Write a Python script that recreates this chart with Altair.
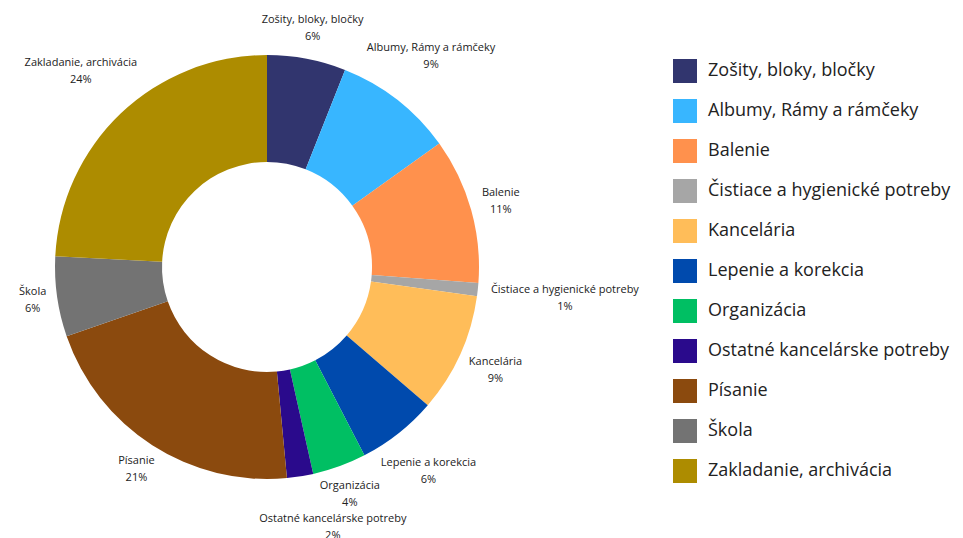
import altair as alt
import pandas as pd

categories = [
    "Zošity, bloky, bločky",
    "Albumy, Rámy a rámčeky",
    "Balenie",
    "Čistiace a hygienické potreby",
    "Kancelária",
    "Lepenie a korekcia",
    "Organizácia",
    "Ostatné kancelárske potreby",
    "Písanie",
    "Škola",
    "Zakladanie, archivácia",
]
values = [6.0, 9.1, 11.1, 1.0, 9.1, 6.1, 4.1, 2.0, 21.2, 6.1, 24.2]
colors = [
    "#31356e", "#38b6ff", "#ff914d", "#a6a6a6", "#ffbd59", "#004aad",
    "#00bf63", "#2a0a8c", "#8b4a0e", "#737373", "#ad8c00",
]

df = pd.DataFrame({"category": categories, "value": values, "idx": list(range(len(categories)))})

FONT = "Open Sans"
color_scale = alt.Scale(domain=categories, range=colors)

base = alt.Chart(df)

arcs = base.mark_arc(outerRadius=212, innerRadius=105).encode(
    theta=alt.Theta("value:Q", stack=True),
    color=alt.Color(
        "category:N",
        scale=color_scale,
        sort=categories,
        legend=alt.Legend(
            title=None,
            orient="none",
            legendX=660,
            legendY=46,
            symbolType="square",
            symbolSize=576,
            symbolStrokeWidth=0,
            labelFontSize=18,
            labelFont=FONT,
            labelColor="#222222",
            rowPadding=16,
            labelOffset=11,
            padding=0,
            labelLimit=400,
        ),
    ),
    order=alt.Order("idx:Q"),
)

labels = (
    base.transform_joinaggregate(total="sum(value)")
    .transform_window(cum="sum(value)", sort=[alt.SortField("idx")], frame=[None, 0])
    .transform_calculate(mid="(datum.cum - datum.value/2)/datum.total*2*PI")
    .transform_window(prev="lag(mid)", sort=[alt.SortField("idx")])
    .transform_calculate(gap="datum.prev == null ? 1 : datum.mid - datum.prev")
    .transform_calculate(
        bump="datum.gap < 0.26 ? 1 : 0",
    )
    .transform_calculate(
        r="222 + length(datum.category)*5.3/2*abs(sin(datum.mid)) + 11*abs(cos(datum.mid)) + datum.bump*25",
        ang="datum.mid - datum.bump*0.09",
        lbl="[datum.category, format(datum.value/datum.total, '.0%')]",
    )
    .mark_text(font=FONT, fontSize=11, color="#222222", align="center", baseline="middle", lineHeight=17, dy=-8.5)
    .encode(
        theta=alt.Theta("ang:Q", scale=None),
        radius=alt.Radius("r:Q", scale=None),
        text=alt.Text("lbl:N"),
    )
)

chart = (
    alt.layer(arcs, labels)
    .properties(
        width=508,
        height=508,
        padding={"left": 5, "top": 5, "right": 434, "bottom": 17},
        autosize=alt.AutoSizeParams(type="none"),
    )
    .configure_view(stroke=None)
)

chart.save("out.html", embed_options={"renderer": "svg", "actions": False})
